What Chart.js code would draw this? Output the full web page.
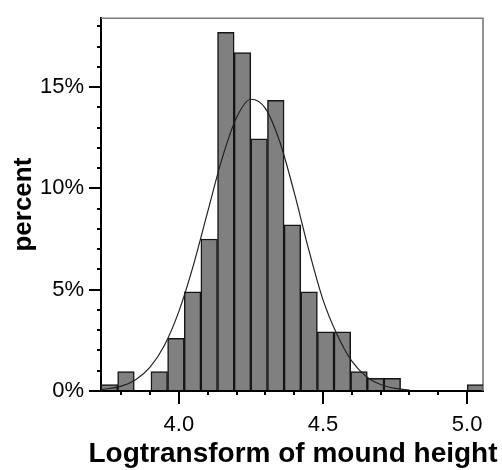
<!DOCTYPE html>
<html>
<head>
<meta charset="utf-8">
<script src="https://cdn.jsdelivr.net/npm/chart.js@4.4.1/dist/chart.umd.min.js"></script>
<style>
  html, body { margin: 0; padding: 0; background: #ffffff; }
  #wrap { width: 502px; height: 470px; }
</style>
</head>
<body>
<div id="wrap"><canvas id="c" width="502" height="470"></canvas></div>
<script>
// ---- data ----
const binCenters = [3.7587, 3.8164, 3.8742, 3.9319, 3.9897, 4.0474, 4.1051, 4.1629, 4.2206, 4.2784,
                    4.3361, 4.3939, 4.4516, 4.5093, 4.5671, 4.6248, 4.6826, 4.7403, 4.7981, 4.8558,
                    4.9135, 4.9713, 5.0290];
const binPercent = [0.32, 0.96, 0, 0.96, 2.6, 4.9, 7.5, 17.7, 16.7, 12.45,
                    14.35, 8.2, 4.9, 2.92, 2.92, 0.96, 0.63, 0.63, 0, 0,
                    0, 0, 0.32];
const curveX = [3.73, 3.80, 3.85, 3.90, 3.95, 4.00, 4.05, 4.10, 4.15, 4.20, 4.25,
                4.30, 4.35, 4.40, 4.45, 4.50, 4.55, 4.60, 4.65, 4.70, 4.75, 4.80];
const curveY = [0.06, 0.24, 0.56, 1.18, 2.26, 3.93, 6.19, 8.85, 11.48, 13.5, 14.4,
                13.95, 12.3, 9.8, 7.0, 4.5, 2.75, 1.47, 0.72, 0.32, 0.13, 0.05];
const xTickValues = [4.0, 4.5, 5.0];
const xTickLabels = ['4.0', '4.5', '5.0'];
const xMinorTicks = [3.8, 3.9, 4.1, 4.2, 4.3, 4.4, 4.6, 4.7, 4.8, 4.9];
const yTickValues = [0, 5, 10, 15];
const yTickLabels = ['0%', '5%', '10%', '15%'];
const yMinorTicks = [1, 2, 3, 4, 6, 7, 8, 9, 11, 12, 13, 14, 16, 17, 18];
const xTitle = 'Logtransform of mound height';
const yTitle = 'percent';

const FONT = "'Liberation Sans', Arial, Helvetica, sans-serif";
Chart.defaults.font.family = FONT;
Chart.defaults.color = '#000000';

const framePlugin = {
  id: 'frame',
  beforeDatasetsDraw(chart) {
    const {ctx, chartArea: a} = chart;
    ctx.save();
    ctx.strokeStyle = '#7a7a7a';
    ctx.lineWidth = 1.6;
    ctx.beginPath();
    ctx.moveTo(a.left, a.top);
    ctx.lineTo(a.right, a.top);
    ctx.lineTo(a.right, a.bottom);
    ctx.stroke();
    ctx.restore();
  },
  afterDraw(chart) {
    const {ctx, chartArea: a} = chart;
    const xs = chart.scales.x, ys = chart.scales.y;
    ctx.save();
    ctx.strokeStyle = '#000000';
    ctx.lineWidth = 2;
    ctx.beginPath();
    xMinorTicks.forEach(v => {
      const px = Math.round(xs.getPixelForValue(v));
      ctx.moveTo(px, a.bottom);
      ctx.lineTo(px, a.bottom + 4);
    });
    yMinorTicks.forEach(v => {
      const py = Math.round(ys.getPixelForValue(v));
      ctx.moveTo(a.left, py);
      ctx.lineTo(a.left - 4, py);
    });
    ctx.stroke();
    // x-axis title (drawn without width compression, may overhang the plot area like the reference)
    ctx.fillStyle = '#000000';
    ctx.font = 'bold 28px ' + FONT;
    ctx.textAlign = 'center';
    ctx.textBaseline = 'alphabetic';
    ctx.fillText(xTitle, (a.left + a.right) / 2 + 1, 462);
    ctx.restore();
  }
};

new Chart(document.getElementById('c'), {
  data: {
    datasets: [
      {
        type: 'line',
        order: 0,
        data: curveX.map((x, i) => ({x: x, y: curveY[i]})),
        borderColor: '#222222',
        borderWidth: 1.2,
        pointRadius: 0,
        tension: 0.4,
        cubicInterpolationMode: 'monotone',
        fill: false
      },
      {
        type: 'bar',
        order: 1,
        data: binCenters.map((x, i) => ({x: x, y: binPercent[i]})),
        backgroundColor: '#808080',
        borderColor: '#151515',
        borderWidth: 1.5,
        barPercentage: 1.0,
        categoryPercentage: 1.0
      }
    ]
  },
  options: {
    responsive: false,
    animation: false,
    devicePixelRatio: 1,
    layout: { padding: { left: 0, right: 19, top: 7, bottom: 0 } },
    plugins: { legend: { display: false }, tooltip: { enabled: false } },
    scales: {
      x: {
        type: 'linear',
        position: 'bottom',
        offset: false,
        min: 3.7298,
        max: 5.055,
        afterFit(scale) { scale.height = 79; },
        afterBuildTicks(scale) { scale.ticks = xTickValues.map(v => ({value: v})); },
        ticks: {
          autoSkip: false,
          maxRotation: 0,
          padding: 8,
          font: { size: 22 },
          color: '#000000',
          callback: (v) => { const i = xTickValues.indexOf(v); return i >= 0 ? xTickLabels[i] : ''; }
        },
        grid: {
          offset: false,
          drawOnChartArea: false,
          drawTicks: true,
          tickLength: 13,
          color: '#000000',
          lineWidth: 2
        },
        border: { display: true, color: '#000000', width: 2 },
        title: { display: false }
      },
      y: {
        type: 'linear',
        position: 'left',
        min: 0,
        max: 18.4,
        afterFit(scale) { scale.width = 101; },
        afterBuildTicks(scale) { scale.ticks = yTickValues.map(v => ({value: v})); },
        ticks: {
          autoSkip: false,
          padding: 5,
          font: { size: 22 },
          color: '#000000',
          callback: (v) => { const i = yTickValues.indexOf(v); return i >= 0 ? yTickLabels[i] : ''; }
        },
        grid: {
          drawOnChartArea: false,
          drawTicks: true,
          tickLength: 12,
          color: '#000000',
          lineWidth: 2
        },
        border: { display: true, color: '#000000', width: 2 },
        title: {
          display: true,
          text: yTitle,
          font: { size: 26, weight: 'bold', lineHeight: 1.2 },
          color: '#000000',
          padding: { top: 8, bottom: 0 }
        }
      }
    }
  },
  plugins: [framePlugin]
});
</script>
</body>
</html>
